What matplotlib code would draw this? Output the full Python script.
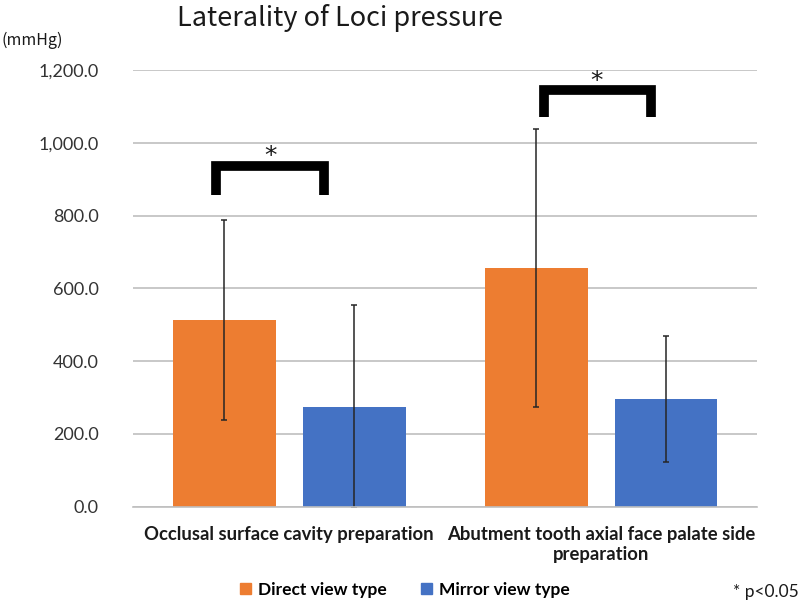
import numpy as np
import matplotlib
matplotlib.use('Agg')
import matplotlib.pyplot as plt
from matplotlib.patches import Patch

# data
categories = ['Occlusal surface cavity preparation',
              'Abutment tooth axial face palate side\npreparation']
direct_mean = [513, 656]
direct_sd = [276, 381]
mirror_mean = [275, 296]
mirror_sd = [278, 174]
yticks = [0, 200, 400, 600, 800, 1000, 1200]

orange = '#ED7D31'
blue = '#4472C4'

plt.rcParams['font.family'] = ['Lato', 'DejaVu Sans']

fig = plt.figure(figsize=(8, 6.09), dpi=100)
ax = fig.add_axes([0.1667, 0.168, 0.7796, 0.717])

x = np.arange(len(categories))
w = 0.33
off = 0.208
err_kw = dict(ecolor='#262626', elinewidth=1.1, capsize=2.2, capthick=1.1)
ax.bar(x - off, direct_mean, w, yerr=direct_sd, color=orange, error_kw=err_kw, zorder=2)
ax.bar(x + off, mirror_mean, w, yerr=mirror_sd, color=blue, error_kw=err_kw, zorder=2)

ax.set_xlim(-0.5, 1.5)
ax.set_ylim(0, 1200)
ax.set_yticks(yticks)
ax.set_yticklabels([f'{v:,.1f}' for v in yticks], fontsize=13, color='#333333')
ax.yaxis.grid(True, color='#BFBFBF', linewidth=1.2, zorder=0)
ax.set_axisbelow(True)
for s in ['top', 'right', 'left']:
    ax.spines[s].set_visible(False)
ax.spines['bottom'].set_color('#BFBFBF')
ax.spines['bottom'].set_linewidth(1.2)
ax.tick_params(axis='y', length=0, pad=25)
ax.tick_params(axis='x', length=0, pad=14)
ax.set_xticks(x)
ax.set_xticklabels(categories, fontsize=13.3, fontweight='bold', color='#1a1a1a',
                   multialignment='center')

# significance brackets
brackets = [(-0.234, 0.110, 935, 856, -0.061, 965),
            (0.816, 1.160, 1145, 1072, 0.984, 1170)]
for x0, x1, ytop, ybot, sx, sy in brackets:
    ax.plot([x0, x0, x1, x1], [ybot, ytop, ytop, ybot], color='black', lw=7,
            solid_joinstyle='miter', solid_capstyle='butt', zorder=3, clip_on=False)
    ax.text(sx, sy, '*', fontsize=18, ha='center', va='center', color='#1a1a1a',
            family='DejaVu Sans')

fig.text(0.425, 0.97, 'Laterality of Loci pressure', fontsize=19.5, ha='center', va='center',
         family='Noto Sans CJK JP', color='#1a1a1a')
fig.text(0.002, 1 - 40 / 609, '(mmHg)', fontsize=11.5, ha='left', va='center',
         color='#1a1a1a', family=['Noto Sans CJK JP', 'DejaVu Sans'])

handles = [Patch(color=orange, label='Direct view type'),
           Patch(color=blue, label='Mirror view type')]
fig.legend(handles=handles, loc='center', bbox_to_anchor=(0.506, 1 - 590 / 609), ncol=2,
           frameon=False, handlelength=0.6, handleheight=0.6, handletextpad=0.4,
           columnspacing=2.0, prop={'size': 12.5, 'weight': 'bold'})
fig.text(0.998, 1 - 592 / 609, '* p<0.05', fontsize=12.5, ha='right', va='center',
         color='#1a1a1a')

fig.savefig('out.png', dpi=100)
